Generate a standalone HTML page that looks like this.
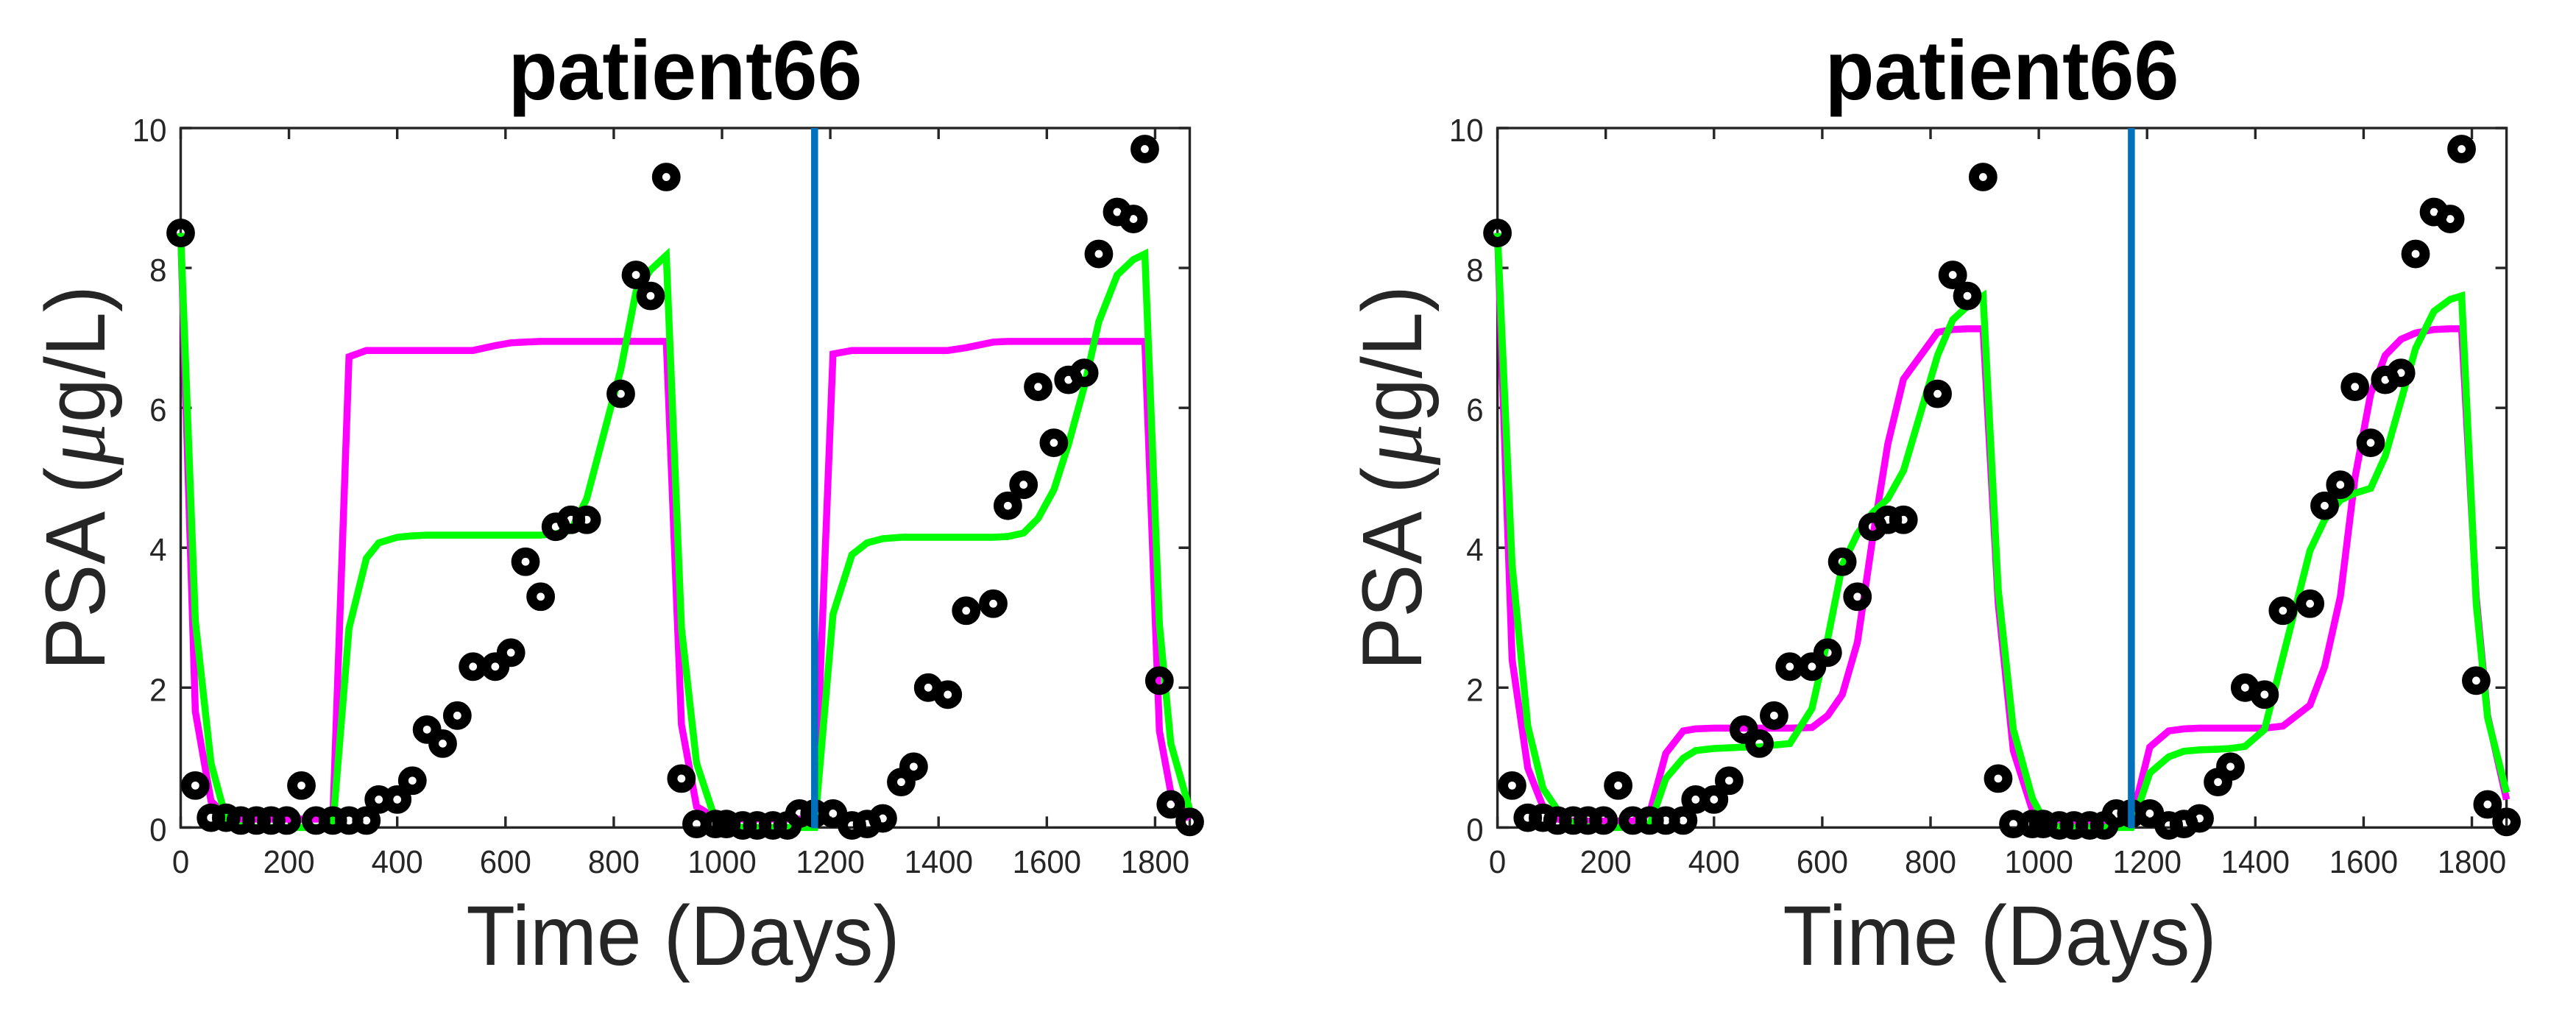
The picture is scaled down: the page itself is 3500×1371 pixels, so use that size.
<!DOCTYPE html>
<html lang="en">
<head>
<meta charset="utf-8">
<title>patient66 PSA charts</title>
<style>
html,body{margin:0;padding:0;background:#fff;width:3500px;height:1371px;overflow:hidden}
svg{display:block}
text{font-family:"Liberation Sans",sans-serif}
.title{font-size:109.5px;font-weight:bold;fill:#000;text-anchor:middle}
.axis-label{font-size:108px;fill:#262626;text-anchor:middle}
.x-title{font-size:109px}
.mu{font-family:"Liberation Serif",serif;font-style:italic;font-size:115px}
.tick-label{font-size:42px;fill:#262626}
</style>
</head>
<body>
<svg id="figure" xmlns="http://www.w3.org/2000/svg" width="3500" height="1371" viewBox="0 0 3500 1371">
  <rect x="0" y="0" width="3500" height="1371" fill="#fff"/>
  <g id="chart-left">
    <text class="title" transform="translate(931,135) scale(1,1.04)">patient66</text>
    <text class="axis-label x-title" transform="translate(928,1311) scale(1,1.06)">Time (Days)</text>
    <text class="axis-label" transform="translate(142,649.5) rotate(-90) scale(1,1.07)">PSA (<tspan class="mu" dx="3">μ</tspan>g/L)</text>
  </g>
  <g id="chart-right">
    <text class="title" transform="translate(2720,135) scale(1,1.04)">patient66</text>
    <text class="axis-label x-title" transform="translate(2717,1311) scale(1,1.06)">Time (Days)</text>
    <text class="axis-label" transform="translate(1931,649.5) rotate(-90) scale(1,1.07)">PSA (<tspan class="mu" dx="3">μ</tspan>g/L)</text>
  </g>
</svg>
<script>
const measuredDays = [0,27,56,84,111,140,167,196,223,250,281,311,343,366,400,428,455,484,511,540,581,610,637,665,693,721,750,813,841,868,897,925,953,988,1008,1038,1065,1094,1121,1143,1171,1205,1240,1268,1297,1331,1354,1381,1417,1451,1501,1528,1557,1584,1613,1640,1669,1696,1730,1760,1781,1808,1829,1864];
const measuredPsa = [8.5,0.6,0.14,0.14,0.1,0.1,0.1,0.1,0.6,0.1,0.1,0.1,0.1,0.4,0.4,0.67,1.4,1.2,1.6,2.3,2.3,2.5,3.8,3.3,4.3,4.4,4.4,6.2,7.9,7.6,9.3,0.7,0.05,0.05,0.05,0.03,0.03,0.03,0.03,0.2,0.2,0.2,0.03,0.05,0.13,0.65,0.87,2,1.9,3.1,3.2,4.6,4.9,6.3,5.5,6.4,6.5,8.2,8.8,8.7,9.7,2.1,0.33,0.08];
const leftMagentaPsa = [8.5,1.66,0.38,0.16,0.12,0.12,0.12,0.12,0.12,0.12,0.12,6.73,6.82,6.82,6.82,6.82,6.82,6.82,6.82,6.82,6.89,6.93,6.94,6.95,6.95,6.95,6.95,6.95,6.95,6.95,6.95,1.47,0.3,0.14,0.12,0.12,0.12,0.12,0.12,0.12,0.12,6.77,6.82,6.82,6.82,6.82,6.82,6.82,6.82,6.86,6.94,6.95,6.95,6.95,6.95,6.95,6.95,6.95,6.95,6.95,6.95,1.38,0.5,0.12];
const leftGreenPsa = [8.5,2.95,0.92,0.12,0.02,0,0,0,0,0,0.02,2.85,3.85,4.07,4.15,4.17,4.18,4.18,4.18,4.18,4.18,4.18,4.18,4.18,4.2,4.25,4.7,6.55,7.66,7.97,8.18,2.85,0.92,0.1,0.02,0,0,0,0,0,0,3.05,3.9,4.07,4.13,4.15,4.15,4.15,4.15,4.15,4.15,4.16,4.21,4.42,4.83,5.48,6.3,7.23,7.9,8.12,8.2,2.9,1.2,0.25];
const rightMagentaPsa = [8.5,2.4,0.85,0.3,0.12,0.09,0.09,0.09,0.09,0.09,0.2,1.06,1.38,1.41,1.42,1.42,1.42,1.42,1.42,1.42,1.43,1.6,1.9,2.65,4.13,5.48,6.41,7.08,7.12,7.13,7.13,3.2,1.1,0.25,0.12,0.09,0.09,0.09,0.09,0.09,0.09,1.15,1.38,1.41,1.42,1.42,1.42,1.42,1.42,1.45,1.75,2.3,3.3,5,6.2,6.75,6.98,7.07,7.12,7.13,7.13,3.3,1.6,0.4];
const rightGreenPsa = [8.5,3.75,1.45,0.56,0.25,0.05,0.01,0,0,0,0.03,0.7,0.99,1.1,1.13,1.14,1.15,1.15,1.18,1.2,1.7,2.7,3.75,4.2,4.5,4.7,5.1,6.75,7.26,7.45,7.6,3.4,1.4,0.42,0.12,0,0,0,0,0,0,0.78,1.01,1.09,1.11,1.12,1.13,1.16,1.4,2.44,3.96,4.4,4.68,4.78,4.85,5.31,6.1,6.85,7.38,7.55,7.6,3.2,1.57,0.5];
const xTicks = [0,200,400,600,800,1000,1200,1400,1600,1800];
const yTicks = [0,2,4,6,8,10];
const treatmentSwitchDay = [1171];
const xDomain = [0,1864];
const yDomain = [0,10];

const NS = 'http://www.w3.org/2000/svg';
const PLOT_WIDTH = 1371, PLOT_TOP = 174, PLOT_BOTTOM = 1124.4, TICK_LEN = 15;

function make(tag, attrs) {
  const el = document.createElementNS(NS, tag);
  for (const k in attrs) el.setAttribute(k, attrs[k]);
  return el;
}

function drawChart(parent, left, magenta, green, prefix) {
  const xScale = d => left + (d - xDomain[0]) / (xDomain[1] - xDomain[0]) * PLOT_WIDTH;
  const yScale = v => PLOT_BOTTOM - (v - yDomain[0]) / (yDomain[1] - yDomain[0]) * (PLOT_BOTTOM - PLOT_TOP);
  const right = left + PLOT_WIDTH;

  const box = make('rect', {x: left, y: PLOT_TOP, width: PLOT_WIDTH, height: PLOT_BOTTOM - PLOT_TOP, fill: 'none', stroke: '#262626', 'stroke-width': 3.4});
  
  
  parent.appendChild(box);

  xTicks.forEach(t => {
    const x = xScale(t);
    const bottomTick = make('path', {d: `M${x} ${PLOT_BOTTOM}V${PLOT_BOTTOM - TICK_LEN}M${x} ${PLOT_TOP}V${PLOT_TOP + TICK_LEN}`, stroke: '#262626', 'stroke-width': 3.4, fill: 'none'});
    
    
    parent.appendChild(bottomTick);
    const label = make('text', {class: 'tick-label', transform: `translate(${x},1186) scale(1,1.03)`, 'text-anchor': 'middle'});
    label.textContent = String(t);
    
    
    parent.appendChild(label);
  });

  yTicks.forEach(t => {
    const y = yScale(t);
    const sideTick = make('path', {d: `M${left} ${y}H${left + TICK_LEN}M${right} ${y}H${right - TICK_LEN}`, stroke: '#262626', 'stroke-width': 3.4, fill: 'none'});
    
    
    parent.appendChild(sideTick);
    const label = make('text', {class: 'tick-label', transform: `translate(${left - 19},${y + 18}) scale(1,1.03)`, 'text-anchor': 'end'});
    label.textContent = String(t);
    
    
    parent.appendChild(label);
  });

  const toPoints = vals => vals.map((v, i) => xScale(measuredDays[i]).toFixed(1) + ',' + yScale(v).toFixed(1)).join(' ');

  const magentaLine = make('polyline', {points: toPoints(magenta), fill: 'none', stroke: '#ff00ff', 'stroke-width': 9.5});
  
  
  parent.appendChild(magentaLine);

  const greenLine = make('polyline', {points: toPoints(green), fill: 'none', stroke: '#00ff00', 'stroke-width': 9.5});
  
  
  parent.appendChild(greenLine);

  measuredPsa.forEach((v, i) => {
    const dot = make('circle', {cx: xScale(measuredDays[i]), cy: yScale(v), r: 12.4, fill: 'none', stroke: '#000', 'stroke-width': 14});
    
    
    parent.appendChild(dot);
  });

  treatmentSwitchDay.forEach(d => {
    const x = xScale(d);
    const divider = make('line', {x1: x, x2: x, y1: PLOT_TOP, y2: PLOT_BOTTOM + 1, stroke: '#0072bd', 'stroke-width': 9.5});
    
    
    parent.appendChild(divider);
  });
}

drawChart(document.getElementById('chart-left'), 245.5, leftMagentaPsa, leftGreenPsa, 'left');
drawChart(document.getElementById('chart-right'), 2034.6, rightMagentaPsa, rightGreenPsa, 'right');
</script>
</body>
</html>
